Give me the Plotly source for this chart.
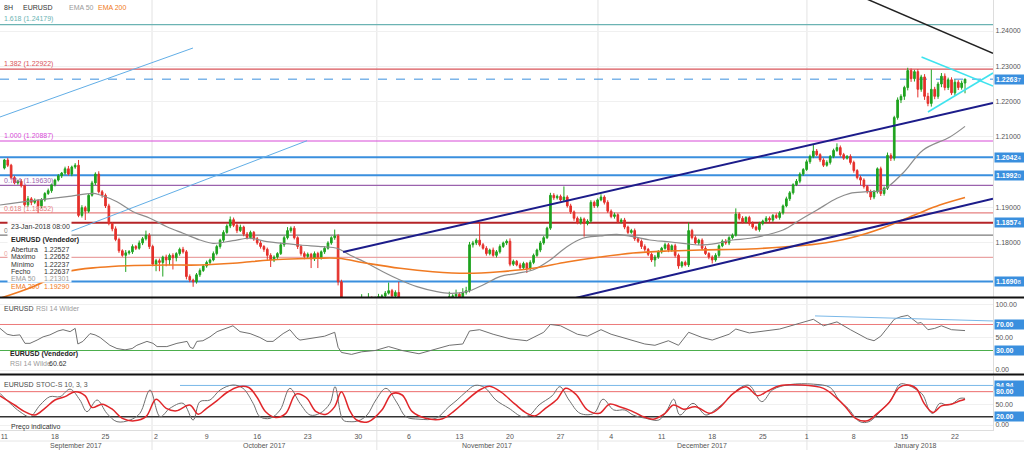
import plotly.graph_objects as go

# ---------------- DATA ----------------
# 8H EURUSD candles (index 0 = Mon 11-Sep-2017 first session ... 285 = 23-Jan-2018 08:00)
first_open = 1.2012
closes = [
    1.2035, 1.2020, 1.1985, 1.1970, 1.1975, 1.1962, 1.1908, 1.1925, 1.1915, 1.1920, 1.1905, 1.1922, 1.1940, 1.1948, 1.1965,
    1.1978, 1.1990, 1.1998, 1.2010, 1.1995, 1.2015, 1.2020, 1.1878, 1.1900, 1.1890, 1.1935, 1.1970, 1.1995, 1.1945, 1.1935,
    1.1905, 1.1855, 1.1840, 1.1810, 1.1778, 1.1765, 1.1772, 1.1775, 1.1790, 1.1785, 1.1800, 1.1812, 1.1822, 1.1790, 1.1740,
    1.1750, 1.1745, 1.1760, 1.1752, 1.1765, 1.1758, 1.1770, 1.1782, 1.1775, 1.1705, 1.1695, 1.1690, 1.1710, 1.1722, 1.1735,
    1.1745, 1.1752, 1.1770, 1.1790, 1.1808, 1.1830, 1.1848, 1.1866, 1.1850, 1.1835, 1.1845, 1.1825, 1.1815, 1.1830, 1.1812,
    1.1800, 1.1790, 1.1782, 1.1765, 1.1752, 1.1760, 1.1770, 1.1795, 1.1815, 1.1835, 1.1842, 1.1815, 1.1790, 1.1770, 1.1762,
    1.1768, 1.1755, 1.1770, 1.1758, 1.1775, 1.1785, 1.1800, 1.1815, 1.1820, 1.1690, 1.1630, 1.1620, 1.1605, 1.1612, 1.1598,
    1.1620, 1.1640, 1.1635, 1.1645, 1.1640, 1.1642, 1.1648, 1.1650, 1.1658, 1.1665, 1.1650, 1.1660, 1.1640, 1.1620, 1.1605,
    1.1590, 1.1585, 1.1600, 1.1570, 1.1560, 1.1575, 1.1590, 1.1585, 1.1595, 1.1610, 1.1625, 1.1640, 1.1648, 1.1650, 1.1655,
    1.1645, 1.1660, 1.1665, 1.1795, 1.1800, 1.1808, 1.1795, 1.1785, 1.1770, 1.1780, 1.1765, 1.1775, 1.1790, 1.1800, 1.1805,
    1.1740, 1.1748, 1.1738, 1.1730, 1.1742, 1.1728, 1.1745, 1.1765, 1.1780, 1.1800, 1.1815, 1.1842, 1.1935, 1.1928, 1.1932,
    1.1922, 1.1930, 1.1905, 1.1888, 1.1870, 1.1858, 1.1868, 1.1855, 1.1862, 1.1915, 1.1905, 1.1922, 1.1930, 1.1915, 1.1890,
    1.1875, 1.1880, 1.1860, 1.1865, 1.1845, 1.1830, 1.1835, 1.1812, 1.1805, 1.1790, 1.1782, 1.1768, 1.1752, 1.1760, 1.1775,
    1.1785, 1.1795, 1.1780, 1.1792, 1.1765, 1.1735, 1.1745, 1.1738, 1.1835, 1.1815, 1.1800, 1.1808, 1.1785, 1.1770, 1.1760,
    1.1752, 1.1765, 1.1792, 1.1805, 1.1800, 1.1815, 1.1822, 1.1882, 1.1870, 1.1860, 1.1872, 1.1855, 1.1845, 1.1838, 1.1855,
    1.1862, 1.1870, 1.1865, 1.1878, 1.1872, 1.1885, 1.1905, 1.1925, 1.1942, 1.1965, 1.1975, 1.1995, 1.2008,
    1.2030, 1.2045, 1.2060, 1.2050, 1.2035, 1.2020, 1.2028, 1.2045, 1.2062, 1.2070, 1.2050, 1.2040, 1.2045, 1.2028,
    1.2005, 1.1985, 1.1978, 1.1960, 1.1945, 1.1930, 1.1945, 1.2010, 1.1940, 1.1955, 1.2048, 1.2040, 1.2155, 1.2205, 1.2215,
    1.2240, 1.2288, 1.2265, 1.2285, 1.2235, 1.2270, 1.2215, 1.2195, 1.2235, 1.2215, 1.2250, 1.2272, 1.2240, 1.2262, 1.2225,
    1.2255, 1.2240, 1.22527, 1.22637,
]
# upper / lower shadows in pips beyond the body
wick_up_pips = [
    3, 6, 4, 5, 4, 6, 3, 8, 5, 6, 4, 5, 4, 6, 3,
    4, 5, 3, 6, 8, 4, 6, 15, 7, 5, 4, 6, 5, 8, 5,
    5, 6, 4, 7, 5, 4, 8, 5, 6, 4, 7, 5, 13, 6, 5,
    5, 6, 4, 7, 5, 6, 4, 5, 7, 5, 6, 4, 5, 6, 4,
    5, 4, 6, 5, 4, 6, 5, 9, 6, 5, 7, 4, 6, 5, 4,
    5, 6, 4, 5, 6, 5, 4, 6, 5, 10, 5, 6, 4, 5, 6,
    5, 4, 6, 5, 4, 6, 5, 4, 18, 5, 6, 4, 7, 5, 6,
    4, 15, 5, 13, 4, 6, 8, 5, 6, 23, 5, 6, 30, 5, 4,
    5, 6, 4, 5, 6, 5, 4, 6, 5, 4, 6, 5, 14, 5, 13,
    5, 12, 11, 8, 6, 5, 49, 5, 6, 4, 7, 5, 6, 4, 5,
    8, 5, 4, 6, 5, 4, 6, 5, 4, 6, 5, 4, 7, 6, 5,
    5, 30, 5, 6, 4, 5, 6, 4, 5, 6, 5, 4, 8, 5, 6,
    5, 6, 4, 5, 6, 4, 5, 6, 4, 5, 6, 4, 5, 6, 5,
    4, 6, 5, 4, 6, 5, 4, 5, 23, 5, 6, 4, 5, 6, 4,
    5, 6, 4, 5, 6, 4, 5, 16, 5, 6, 4, 5, 6, 4, 5,
    4, 6, 5, 4, 6, 5, 4, 6, 5, 4, 6, 5, 4,
    6, 5, 18, 6, 4, 5, 6, 4, 5, 12, 6, 5, 4, 6,
    5, 4, 6, 5, 4, 6, 5, 4, 6, 5, 8, 6, 5, 7, 6,
    5, 8, 6, 5, 7, 6, 8, 10, 56, 7, 6, 9, 8, 6, 7,
    8, 6, 7, 1.5,
]
wick_dn_pips = [
    4, 5, 6, 4, 5, 5, 5, 6, 8, 5, 20, 6, 5, 4, 6,
    5, 4, 6, 5, 4, 6, 5, 5, 6, 25, 5, 4, 6, 5, 7,
    6, 5, 7, 5, 6, 4, 47, 5, 6, 5, 4, 6, 5, 7, 6,
    20, 25, 40, 18, 15, 33, 10, 6, 5, 8, 6, 14, 5, 6, 4,
    5, 6, 4, 5, 6, 5, 4, 6, 5, 7, 4, 6, 5, 4, 6,
    5, 6, 7, 13, 20, 6, 5, 4, 6, 5, 6, 5, 7, 6, 8,
    7, 26, 6, 29, 5, 6, 4, 5, 6, 10, 6, 8, 6, 7, 6,
    5, 6, 4, 5, 6, 5, 4, 6, 5, 4, 6, 5, 7, 6, 5,
    6, 5, 7, 5, 8, 6, 5, 4, 6, 5, 4, 6, 5, 4, 6,
    5, 4, 6, 5, 8, 6, 5, 4, 6, 5, 4, 6, 5, 4, 6,
    6, 5, 4, 6, 5, 13, 6, 5, 4, 6, 5, 4, 5, 6, 5,
    4, 6, 5, 6, 7, 5, 6, 37, 5, 5, 6, 5, 4, 6, 5,
    5, 6, 4, 5, 6, 5, 4, 6, 5, 7, 6, 5, 6, 19, 5,
    5, 4, 6, 5, 6, 8, 5, 4, 6, 5, 4, 6, 5, 4, 6,
    10, 5, 6, 4, 5, 6, 5, 4, 6, 5, 4, 6, 5, 4, 6,
    5, 4, 6, 5, 4, 6, 5, 4, 6, 5, 4, 6, 5,
    4, 6, 5, 4, 6, 5, 4, 6, 5, 4, 6, 5, 4, 6,
    6, 5, 14, 6, 5, 8, 6, 5, 7, 6, 5, 8, 7, 6, 9,
    10, 8, 9, 8, 23, 7, 10, 8, 9, 8, 7, 9, 8, 7, 6,
    8, 7, 6, 29,
]

# moving averages (candle index, value)
ema50_x = [-1.3, 8.5, 18.6, 26.3, 28.4, 33.4, 38.2, 43.2, 48.2, 53, 58, 61.9, 67.8, 72.9, 77.9, 82.7, 87.7,
           94.5, 98.7, 102.5, 107.6, 112.3, 117.4, 122.4, 128.3, 132.2, 137.2, 142, 147, 152.1, 156.8, 161.9,
           166.9, 171.6, 176.7, 181.7, 186.5, 191.5, 196.6, 201.3, 206.4, 211.4, 216.1, 221.2, 231, 236, 241.1,
           247, 250.9, 255.9, 260.6, 266.6, 272.6, 280.5, 285]
ema50_y = [1.19075, 1.19197, 1.19310, 1.19406, 1.19358, 1.19169, 1.18886, 1.18699, 1.18461, 1.18274, 1.18085,
           1.17991, 1.18065, 1.18133, 1.18036, 1.17991, 1.17943, 1.17895, 1.17850, 1.17660, 1.17425, 1.17187,
           1.16952, 1.16763, 1.16621, 1.16576, 1.16621, 1.16811, 1.17046, 1.17142, 1.17235, 1.17518, 1.17895,
           1.18133, 1.18198, 1.18246, 1.18178, 1.18085, 1.18036, 1.17991, 1.17943, 1.17991, 1.18085, 1.18133,
           1.18368, 1.18651, 1.18934, 1.19265, 1.19406, 1.19452, 1.19500, 1.19981, 1.20632, 1.21000, 1.21301]
ema200_x = [-1.3, 8.5, 18.6, 28.4, 36.4, 48.2, 58, 67.8, 72.9, 82.7, 92.7, 99, 107.6, 117.4, 127.1, 137.2, 147,
            156.8, 166.9, 176.7, 186.5, 196.6, 206.4, 221.2, 231, 241.1, 250.9, 260.6, 270.7, 277.5, 285]
ema200_y = [1.16435, 1.16763, 1.17187, 1.17312, 1.17357, 1.17377, 1.17377, 1.17425, 1.17470, 1.17538, 1.17567,
            1.17567, 1.17425, 1.17283, 1.17187, 1.17142, 1.17187, 1.17283, 1.17462, 1.17603, 1.17717, 1.17773,
            1.17801, 1.17830, 1.17886, 1.17971, 1.18141, 1.18424, 1.18820, 1.19075, 1.19290]

# RSI 14 (candle index, value)
rsi_x = [-1.3, 0.8, 2.6, 4.6, 6.1, 7.6, 9.7, 11.5, 13.5, 15.9, 17.4, 19.5, 21, 21.8, 23.3, 25.4, 26.9, 28.4,
         31.3, 33.4, 35.8, 37.9, 39.3, 42.3, 44.1, 45.3, 48.2, 51.2, 54.2, 55.1, 56, 57.1, 58.9, 61, 63.1, 66,
         67.8, 69.9, 72.9, 75.8, 77.9, 79.7, 82.7, 84.7, 86.8, 87.7, 90, 95, 98, 99, 100, 103, 106, 110, 114,
         118, 123, 128, 132, 136, 138, 141, 145, 150, 155, 160, 162, 165, 170, 173, 177, 180, 185, 190, 193,
         197, 200, 203, 207, 210, 215, 217, 221, 225, 230, 236, 240, 243, 247, 251, 256, 258, 260, 262, 264,
         266, 268, 271, 272, 274, 276, 278, 281, 285]
rsi_y = [64, 55, 53, 54, 41, 41, 46, 51, 54, 60, 62, 59, 64, 40, 44, 56, 54, 50, 38, 33, 31, 33, 38, 44, 41,
         36, 36, 41, 44, 35, 33, 44, 45, 51, 59, 64, 68, 59, 56, 50, 44, 44, 56, 62, 49, 46, 48, 52, 58, 35,
         27, 24, 28, 30, 36, 30, 25, 32, 38, 40, 60, 62, 55, 48, 45, 58, 70, 68, 55, 52, 62, 55, 48, 40, 38,
         45, 38, 58, 50, 46, 55, 63, 57, 60, 63, 72, 78, 68, 74, 62, 48, 45, 52, 65, 78, 82, 84, 72, 73, 62,
         64, 68, 62, 60.62]

# Slow stochastic 10,3,3 (%K grey, %D red)
k_x = [-1.3, 1.7, 4.6, 7.6, 10.6, 13.5, 16.5, 19.5, 22.4, 24.5, 27.5, 30.4, 33.4, 37.3, 40.2, 43.2, 46.2, 49.1,
       53, 56, 58, 61, 64, 67.8, 70.8, 73.8, 75.8, 78.8, 81.8, 84.7, 87.7, 90.7, 93.6, 96.6, 98.1, 100.5, 102.5,
       105, 107.6, 110.2, 113.2, 116.5, 119.1, 123, 128, 131.9, 134.3, 137, 139.6, 142.5, 145.8, 149.7, 153.6,
       155.9, 158.6, 162.5, 164.8, 167.5, 170.8, 174.9, 177.6, 180.8, 184.1, 186.5, 190.3, 194.2, 196.6, 198.6,
       200.4, 204.3, 208.1, 210.8, 214.4, 218, 221, 224.7, 228, 233, 240, 245, 247.6, 250.3, 253.8, 256.5,
       260.3, 263, 265.7, 268, 270.7, 272.5, 274.6, 275.5, 277.5, 279.6, 281.4, 283.5, 285]
k_y = [76, 52, 32, 20, 48, 68, 68, 86, 60, 32, 60, 28, 8, 12, 28, 84, 20, 40, 52, 12, 56, 60, 84, 96, 88, 52,
       20, 16, 36, 88, 52, 24, 28, 52, 92, 12, 8, 10, 24, 60, 88, 53, 20, 14, 16, 44, 60, 80, 95, 90, 60, 40,
       20, 24, 48, 70, 92, 60, 28, 28, 62, 36, 36, 24, 16, 12, 36, 62, 24, 52, 24, 36, 60, 88, 95, 56, 85, 97,
       98, 90, 60, 40, 8, 8, 36, 60, 98, 96, 84, 72, 32, 28, 52, 48, 52, 64, 64]
d_x = [-1.3, 3, 6, 9, 12, 15, 18, 21, 24, 26, 29, 32, 35, 38.5, 42, 45, 48, 51, 55, 57.5, 60, 63, 66, 69.5,
       72.5, 75, 77.5, 80.5, 83.5, 86.5, 89.5, 92.5, 95.5, 98, 100, 102.5, 104.5, 108, 112, 115, 118, 121, 125,
       130, 133.5, 136.5, 141, 144, 147.5, 151.5, 155, 157.5, 160.5, 164, 166.5, 169.5, 173, 176.5, 179.5,
       182.5, 186, 189, 192.5, 196, 198.5, 201.5, 205, 209.5, 212.5, 216, 220, 223.5, 226.5, 230, 236, 243,
       247, 249.5, 252.5, 256, 259, 262.5, 265.5, 268, 270.5, 273, 275.5, 278, 281, 283.5, 285]
d_y = [70, 48, 32, 24, 40, 60, 68, 80, 70, 42, 50, 38, 16, 10, 20, 62, 40, 34, 48, 26, 40, 58, 78, 92, 90, 66,
       32, 18, 28, 74, 66, 32, 26, 44, 80, 34, 12, 8, 36, 75, 72, 32, 16, 15, 34, 55, 84, 93, 78, 50, 28, 22,
       40, 62, 88, 74, 36, 28, 50, 44, 34, 22, 14, 28, 48, 38, 44, 28, 44, 74, 92, 70, 82, 94, 96, 88, 64, 44,
       16, 10, 28, 54, 90, 96, 88, 50, 30, 46, 50, 58, 62]

# x axis labels
day_idx = [0, 15, 30, 45, 60, 75, 90, 105, 120, 135, 150, 165, 180, 195, 210, 225, 238, 252, 267, 282]
day_labels = ["11", "18", "25", "2", "9", "16", "23", "30", "6", "13", "20", "27", "4", "11", "18", "25",
              "1", "8", "15", "22"]
month_start_idx = [43.8, 110.5, 176.1, 238.1]
month_labels = ["September 2017", "October 2017", "November 2017", "December 2017", "January 2018"]

# Fibonacci levels (label, price, colour)
fib_levels = [
    ("1.618 (1.24179)", 1.24179, "#6bb3b3"),
    ("1.382 (1.22922)", 1.22922, "#d9545a"),
    ("1.000 (1.20887)", 1.20887, "#d84ad8"),
    ("0.764 (1.19630)", 1.19630, "#9a62ad"),
    ("0.618 (1.18852)", 1.18852, "#e68080"),
    ("0.500 (1.18224)", 1.18224, "#7a7a7a"),
    ("0.382 (1.17595)", 1.17595, "#eaa3a3"),
]
sr_levels = [(1.20424, "#3a8fde"), (1.19920, "#3a8fde"), (1.18574, "#b52428"), (1.16908, "#3a8fde")]
last_price = 1.22637
price_boxes = [1.22637, 1.20424, 1.19920, 1.18574, 1.16908]
price_ticks = [1.18, 1.19, 1.21, 1.22, 1.23, 1.24]

# drawn trend lines: (x0, y0, x1, y1, colour, width)
trend_lines = [
    (-1.3, 1.21566, 55.95, 1.23519, "#62aee6", 1),
    (8.0, 1.17900, 89.8, 1.20895, "#62aee6", 1),
    (100.5, 1.17745, 293.3, 1.21962, "#1c1c8a", 2),
    (165.7, 1.16358, 293.3, 1.19253, "#1c1c8a", 2),
    (245.0, 1.25350, 293.3, 1.23369, "#222222", 1.5),
    (272.1, 1.23264, 293.3, 1.22443, "#3fe3ee", 1.5),
    (274.0, 1.21707, 293.3, 1.22811, "#3fe3ee", 1.5),
]
rsi_trend = (240.5, 83.2, 293.3, 75.4)
stoch_level_line = (52.1, 94.94)

info_rows = [("Abertura", "1.22527", "#333333"), ("Máximo", "1.22652", "#333333"),
             ("Mínimo", "1.22237", "#333333"), ("Fecho", "1.22637", "#333333"),
             ("EMA 50", "1.21301", "#9a9a9a"), ("EMA 200", "1.19290", "#f07a22")]

# ---------------- BUILD ----------------
n = len(closes)
idx = list(range(n))
opens = [first_open] + closes[:-1]
highs = [max(o, c) + u * 1e-4 for o, c, u in zip(opens, closes, wick_up_pips)]
lows = [min(o, c) - d * 1e-4 for o, c, d in zip(opens, closes, wick_dn_pips)]

GREEN = "#1fa31f"
RED = "#e5302b"
BLUE = "#3a8fde"
FONT = "Liberation Sans, Arial, sans-serif"

PW, PH = 993.0, 430.0
XR = [-1.3, 293.3]


def fx(p):
    return p / PW


def fy(p):
    return (PH - p) / PH


fig = go.Figure()
fig.add_trace(go.Candlestick(
    x=idx, open=opens, high=highs, low=lows, close=closes, xaxis="x", yaxis="y",
    increasing=dict(line=dict(color=GREEN, width=1), fillcolor=GREEN),
    decreasing=dict(line=dict(color=RED, width=1), fillcolor=RED),
    whiskerwidth=0, hoverinfo="skip"))
fig.add_trace(go.Scatter(x=ema50_x, y=ema50_y, mode="lines", yaxis="y",
                         line=dict(color="#8c8c8c", width=1.2, shape="spline"), hoverinfo="skip"))
fig.add_trace(go.Scatter(x=ema200_x, y=ema200_y, mode="lines", yaxis="y",
                         line=dict(color="#f07a22", width=1.6, shape="spline"), hoverinfo="skip"))
fig.add_trace(go.Scatter(x=rsi_x, y=rsi_y, mode="lines", yaxis="y2",
                         line=dict(color="#707070", width=1), hoverinfo="skip"))
fig.add_trace(go.Scatter(x=k_x, y=k_y, mode="lines", yaxis="y3",
                         line=dict(color="#6f6f6f", width=1, shape="spline"), hoverinfo="skip"))
fig.add_trace(go.Scatter(x=d_x, y=d_y, mode="lines", yaxis="y3",
                         line=dict(color="#e0262a", width=1.5, shape="spline"), hoverinfo="skip"))

shapes = []
for m in month_start_idx:
    shapes.append(dict(type="line", xref="x", yref="paper", x0=m, x1=m, y0=fy(450), y1=1,
                       line=dict(color="#e3e3e3", width=1), layer="below"))
for _, val, col in fib_levels:
    shapes.append(dict(type="line", xref="x", yref="y", x0=XR[0], x1=XR[1], y0=val, y1=val,
                       line=dict(color=col, width=1.2), layer="below"))
for val, col in sr_levels:
    shapes.append(dict(type="line", xref="x", yref="y", x0=XR[0], x1=XR[1], y0=val, y1=val,
                       line=dict(color=col, width=2), layer="below"))
shapes.append(dict(type="line", xref="x", yref="y", x0=XR[0], x1=XR[1], y0=last_price, y1=last_price,
                   line=dict(color=BLUE, width=1, dash="dash"), layer="below"))
for x0, y0, x1, y1, col, w in trend_lines:
    shapes.append(dict(type="line", xref="x", yref="y", x0=x0, y0=y0, x1=x1, y1=y1,
                       line=dict(color=col, width=w)))
shapes.append(dict(type="line", xref="x", yref="y2", x0=XR[0], x1=XR[1], y0=70, y1=70,
                   line=dict(color="#ec7b7b", width=1), layer="below"))
shapes.append(dict(type="line", xref="x", yref="y2", x0=XR[0], x1=XR[1], y0=30, y1=30,
                   line=dict(color="#4cae4c", width=1), layer="below"))
shapes.append(dict(type="line", xref="x", yref="y2", x0=rsi_trend[0], y0=rsi_trend[1], x1=rsi_trend[2],
                   y1=rsi_trend[3], line=dict(color="#7ab8e8", width=1)))
shapes.append(dict(type="line", xref="x", yref="y3", x0=XR[0], x1=XR[1], y0=80, y1=80,
                   line=dict(color="#ec6b6b", width=1), layer="below"))
shapes.append(dict(type="line", xref="x", yref="y3", x0=XR[0], x1=XR[1], y0=20, y1=20,
                   line=dict(color="#333333", width=1.5), layer="below"))
shapes.append(dict(type="line", xref="x", yref="y3", x0=stoch_level_line[0], x1=XR[1],
                   y0=stoch_level_line[1], y1=stoch_level_line[1], line=dict(color="#7ab8e8", width=1),
                   layer="below"))
for yy in (297.5, 374.5):
    shapes.append(dict(type="line", xref="paper", yref="paper", x0=0, x1=1024 / PW, y0=fy(yy), y1=fy(yy),
                       line=dict(color="#111111", width=2)))
shapes.append(dict(type="line", xref="paper", yref="paper", x0=0, x1=1024 / PW, y0=fy(441), y1=fy(441),
                   line=dict(color="#e6e6e6", width=1)))

ann = []


def txt(x, y, s, color="#333333", size=7, bold=False):
    if bold:
        s = "<b>" + s + "</b>"
    ann.append(dict(x=fx(x), y=fy(y), xref="paper", yref="paper", text=s, showarrow=False,
                    xanchor="left", yanchor="middle", borderpad=0,
                    font=dict(size=size, color=color, family=FONT)))


txt(3, 7, "8H", "#333333")
txt(22, 7, "EURUSD", "#333333")
txt(68, 7, "EMA 50", "#9a9a9a")
txt(97, 7, "EMA 200", "#f07a22")
fib_label_y = [19, 64, 136, 181, 209, 231, 254]
for (lab, _, col), yy in zip(fib_levels, fib_label_y):
    txt(3, yy, lab, col)

# info box (white panel drawn over the fib labels underneath it)
ann.append(dict(x=fx(7), y=fy(220), xref="paper", yref="paper", text=" ", showarrow=False,
                xanchor="left", yanchor="top", width=63, height=61, borderpad=0,
                bgcolor="rgba(255,255,255,0.96)"))
txt(10, 226, "23-Jan-2018 08:00", "#333333")
txt(10, 240, "EURUSD (Vendedor)", "#222222", bold=True)
for i, (lab, val, col) in enumerate(info_rows):
    yy = 249.5 + i * 7.3
    txt(10, yy, lab, col)
    txt(43, yy, val, col)

# RSI panel
txt(3, 308, "EURUSD", "#444444")
txt(35, 308, "RSI 14 Wilder", "#9a9a9a")
txt(9, 354, "EURUSD (Vendedor)", "#222222", bold=True)
txt(9, 363, "RSI 14 Wilde", "#9a9a9a")
txt(48, 363, "60.62", "#333333")
# Stoch panel
txt(3, 384, "EURUSD", "#444444")
txt(35, 384, "STOC-S 10, 3, 3", "#555555")
txt(10, 427, "Preço indicativo", "#333333")

bounds = [XR[0]] + month_start_idx + [XR[0] + (XR[1] - XR[0]) * 1024 / PW]
for i, lab in enumerate(month_labels):
    cx = (bounds[i] + bounds[i + 1]) / 2
    ann.append(dict(x=cx, y=fy(445.5), xref="x", yref="paper", text=lab, showarrow=False,
                    xanchor="center", yanchor="middle", font=dict(size=7, color="#555555", family=FONT)))


def box(yref, val, label):
    ann.append(dict(x=1.0, xref="paper", y=val, yref=yref, text=label, showarrow=False, xanchor="left",
                    yanchor="middle", xshift=1, bgcolor=BLUE, borderpad=1, width=28, align="left",
                    font=dict(size=7, color="white", family=FONT)))


for v in price_boxes:
    s = f"{v:.5f}"
    box("y", v, "<b>" + s[:-1] + "</b><span style='font-size:6px'>" + s[-1] + "</span>")
for v in (70, 30):
    box("y2", v, f"<b>{v:.2f}</b>")
for v in (94.94, 80, 20):
    box("y3", v, f"<b>{v:.2f}</b>")

axis_font = dict(size=7, color="#555555", family=FONT)
fig.update_layout(
    width=1024, height=450, margin=dict(l=0, r=31, t=0, b=20),
    paper_bgcolor="white", plot_bgcolor="white", showlegend=False,
    font=dict(family=FONT, size=7, color="#444444"),
    xaxis=dict(domain=[0, 1], range=XR, anchor="y3", tickvals=day_idx, ticktext=day_labels,
               showgrid=False, zeroline=False, showline=True, linecolor="#dddddd", ticks="",
               tickfont=axis_font, rangeslider=dict(visible=False), fixedrange=True),
    yaxis=dict(domain=[fy(297), 1], range=[1.16471, 1.248775], side="right", anchor="x",
               tickvals=price_ticks, ticktext=[f"{v:.5f}" for v in price_ticks], showgrid=True,
               gridcolor="#f0f0f0", zeroline=False, showline=True, linecolor="#dddddd", ticks="",
               tickfont=axis_font),
    yaxis2=dict(domain=[fy(374), fy(299)], range=[-6.15, 109.2], side="right", anchor="x",
                tickvals=[0, 50, 100], ticktext=["0.00", "50.00", "100.00"], showgrid=True,
                gridcolor="#f0f0f0", zeroline=False, showline=True, linecolor="#dddddd", ticks="",
                tickfont=axis_font),
    yaxis3=dict(domain=[0, fy(376)], range=[-12, 117.6], side="right", anchor="x",
                tickvals=[0, 50], ticktext=["0.00", "50.00"], showgrid=True,
                gridcolor="#f0f0f0", zeroline=False, showline=True, linecolor="#dddddd", ticks="",
                tickfont=axis_font),
    shapes=shapes, annotations=ann,
)
fig.write_html("out.html")
